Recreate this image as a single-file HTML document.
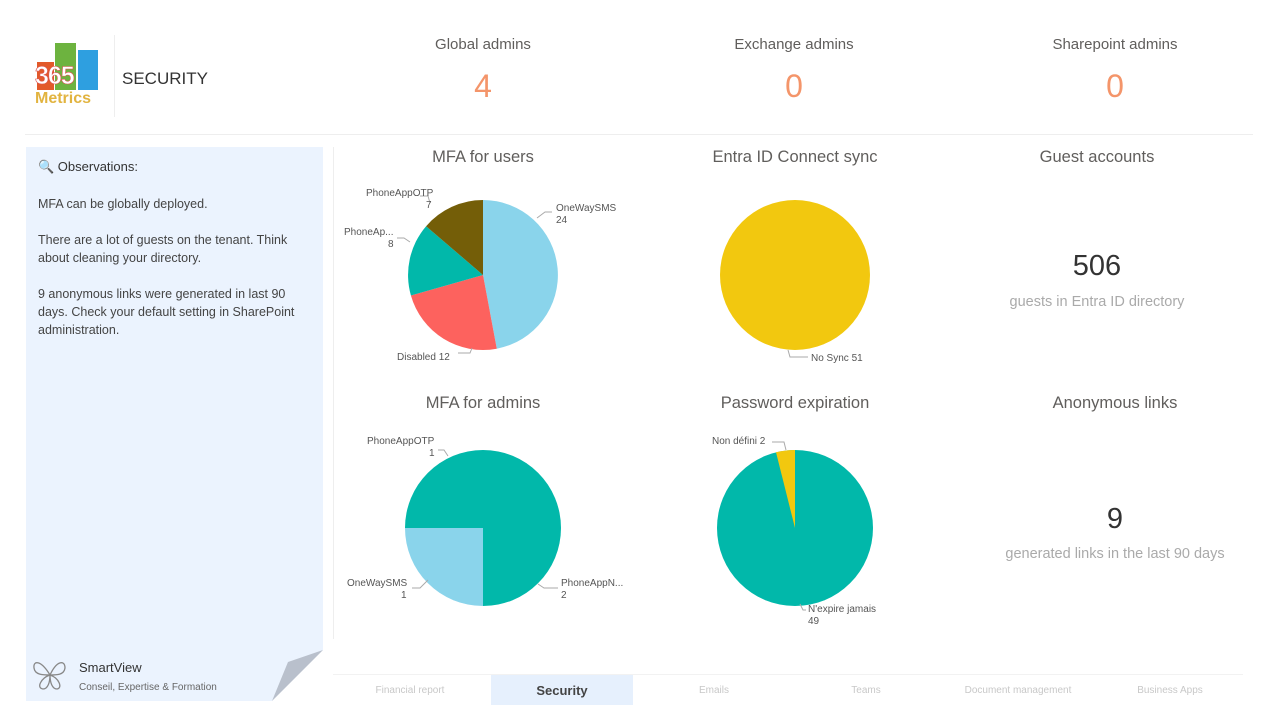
<!DOCTYPE html>
<html><head><meta charset="utf-8"><style>
body{margin:0;width:1280px;height:720px;background:#fff;font-family:"Liberation Sans",sans-serif;position:relative;overflow:hidden}
.a{position:absolute}
.t{color:#605E5C;text-align:center}
</style></head><body>
<!-- logo -->
<div class="a" style="left:37px;top:62px;width:17px;height:28px;background:#E2592A"></div>
<div class="a" style="left:55px;top:43px;width:21px;height:47px;background:#6DB33F"></div>
<div class="a" style="left:78px;top:50px;width:20px;height:40px;background:#2E9FE0"></div>
<div class="a" style="left:35px;top:62px;font:bold 25px 'Liberation Sans',sans-serif;color:#fff;letter-spacing:-1px;-webkit-text-stroke:0.6px #d55">365</div>
<div class="a" style="left:35px;top:90px;font:bold 16px 'Liberation Sans',sans-serif;color:#E2B440">Metrics</div>
<div class="a" style="left:114px;top:35px;width:1px;height:82px;background:#eee"></div>
<div class="a" style="left:122px;top:69px;font-size:17px;color:#333">SECURITY</div>
<div class="a" style="left:25px;top:134px;width:1228px;height:1px;background:#eee"></div>
<!-- KPIs -->
<div class="a t" style="left:383px;top:36px;width:200px;font-size:15px">Global admins</div>
<div class="a t" style="left:383px;top:68px;width:200px;font-size:32px;color:#F4956A">4</div>
<div class="a t" style="left:694px;top:36px;width:200px;font-size:15px">Exchange admins</div>
<div class="a t" style="left:694px;top:68px;width:200px;font-size:32px;color:#F4956A">0</div>
<div class="a t" style="left:1015px;top:36px;width:200px;font-size:15px">Sharepoint admins</div>
<div class="a t" style="left:1015px;top:68px;width:200px;font-size:32px;color:#F4956A">0</div>
<!-- left panel -->
<div class="a" style="left:26px;top:147px;width:297px;height:554px;background:#EBF3FE"></div>
<svg class="a" style="left:270px;top:650px" width="54" height="52"><polygon points="53,0 2,51 53,51" fill="#fff"/><polygon points="53,0 18,12 2,51" fill="#B9C0CC"/></svg>
<div class="a" style="left:38px;top:159px;font-size:13px;color:#333">🔍 Observations:</div>
<div class="a" style="left:38px;top:195px;width:270px;font-size:12.5px;line-height:18px;color:#444">MFA can be globally deployed.<br><br>There are a lot of guests on the tenant. Think about cleaning your directory.<br><br>9 anonymous links were generated in last 90 days. Check your default setting in SharePoint administration.</div>
<svg class="a" style="left:31px;top:658px" width="38" height="34"><path d="M19 17 C10 2 2 2 3 10 C4 17 12 17 19 17 C10 20 5 30 12 31 C17 31 19 24 19 17 C26 2 34 2 34 10 C33 17 26 17 19 17 C28 20 32 30 26 31 C21 31 19 24 19 17Z" fill="none" stroke="#888" stroke-width="1.3"/></svg>
<div class="a" style="left:79px;top:660px;font-size:13px;color:#333">SmartView</div>
<div class="a" style="left:79px;top:682px;font-size:10px;color:#666">Conseil, Expertise &amp; Formation</div>
<div class="a" style="left:333px;top:147px;width:1px;height:492px;background:#eee"></div>
<!-- titles -->
<div class="a t" style="left:383px;top:148px;width:200px;font-size:16.5px">MFA for users</div>
<div class="a t" style="left:695px;top:148px;width:200px;font-size:16.5px">Entra ID Connect sync</div>
<div class="a t" style="left:997px;top:148px;width:200px;font-size:16.5px">Guest accounts</div>
<div class="a t" style="left:383px;top:394px;width:200px;font-size:16.5px">MFA for admins</div>
<div class="a t" style="left:695px;top:394px;width:200px;font-size:16.5px">Password expiration</div>
<div class="a t" style="left:1015px;top:394px;width:200px;font-size:16.5px">Anonymous links</div>
<div class="a t" style="left:997px;top:250px;width:200px;font-size:29px;color:#333">506</div>
<div class="a t" style="left:977px;top:294px;width:240px;font-size:14.5px;color:#aaa">guests in Entra ID directory</div>
<div class="a t" style="left:1015px;top:503px;width:200px;font-size:29px;color:#333">9</div>
<div class="a t" style="left:965px;top:546px;width:300px;font-size:14.5px;color:#aaa">generated links in the last 90 days</div>
<svg class="a" style="left:0;top:0" width="1280" height="720" font-family="Liberation Sans, sans-serif" font-size="10" fill="#555">
<path d="M483 275 L483 200 A75 75 0 0 1 496.8 348.7Z" fill="#8AD4EB"/>
<path d="M483 275 L496.8 348.7 A75 75 0 0 1 410.9 295.5Z" fill="#FD625E"/>
<path d="M483 275 L410.9 295.5 A75 75 0 0 1 426.1 226.2Z" fill="#01B8AA"/>
<path d="M483 275 L426.1 226.2 A75 75 0 0 1 483 200Z" fill="#745E08"/>
<circle cx="795" cy="275" r="75" fill="#F2C80F"/>
<path d="M483 528 L483 450 A78 78 0 0 1 483 606Z" fill="#01B8AA"/>
<path d="M483 528 L483 606 A78 78 0 0 1 405 528Z" fill="#8AD4EB"/>
<path d="M483 528 L405 528 A78 78 0 0 1 483 450Z" fill="#01B8AA"/>
<circle cx="795" cy="528" r="78" fill="#01B8AA"/>
<path d="M795 528 L776 452.3 A78 78 0 0 1 795 450Z" fill="#F2C80F"/>
<g fill="none" stroke="#aaa" stroke-width="1">
<path d="M537 218 L545 212 L552 212"/><path d="M420 196 L428 196 L430 203"/><path d="M397 238 L404 238 L410 242"/><path d="M458 353 L470 353 L472 348"/>
<path d="M788 350 L790 357 L808 357"/><path d="M438 450 L444 450 L448 456"/><path d="M412 588 L420 588 L428 580"/><path d="M538 584 L544 588 L558 588"/><path d="M772 442 L784 442 L786 450"/><path d="M800 604 L803 610 L806 610"/></g>
<text x="556" y="211">OneWaySMS</text><text x="556" y="223">24</text>
<text x="366" y="196">PhoneAppOTP</text><text x="426" y="208">7</text>
<text x="344" y="235">PhoneAp...</text><text x="388" y="247">8</text>
<text x="397" y="360">Disabled 12</text>
<text x="811" y="361">No Sync 51</text>
<text x="367" y="444">PhoneAppOTP</text><text x="429" y="456">1</text>
<text x="347" y="586">OneWaySMS</text><text x="401" y="598">1</text>
<text x="561" y="586">PhoneAppN...</text><text x="561" y="598">2</text>
<text x="712" y="444">Non défini 2</text>
<text x="808" y="612">N'expire jamais</text><text x="808" y="624">49</text>
</svg>
<!-- tabs -->
<div class="a" style="left:333px;top:674px;width:910px;height:1px;background:#f2f2f2"></div>
<div class="a" style="left:491px;top:675px;width:142px;height:30px;background:#E6F0FD"></div>
<div class="a t" style="left:340px;top:685px;width:140px;font-size:10px;color:#c8c8c8">Financial report</div>
<div class="a t" style="left:491px;top:683px;width:142px;font-size:13px;font-weight:bold;color:#444">Security</div>
<div class="a t" style="left:644px;top:685px;width:140px;font-size:10px;color:#c8c8c8">Emails</div>
<div class="a t" style="left:796px;top:685px;width:140px;font-size:10px;color:#c8c8c8">Teams</div>
<div class="a t" style="left:948px;top:685px;width:140px;font-size:10px;color:#c8c8c8">Document management</div>
<div class="a t" style="left:1100px;top:685px;width:140px;font-size:10px;color:#c8c8c8">Business Apps</div>
</body></html>
